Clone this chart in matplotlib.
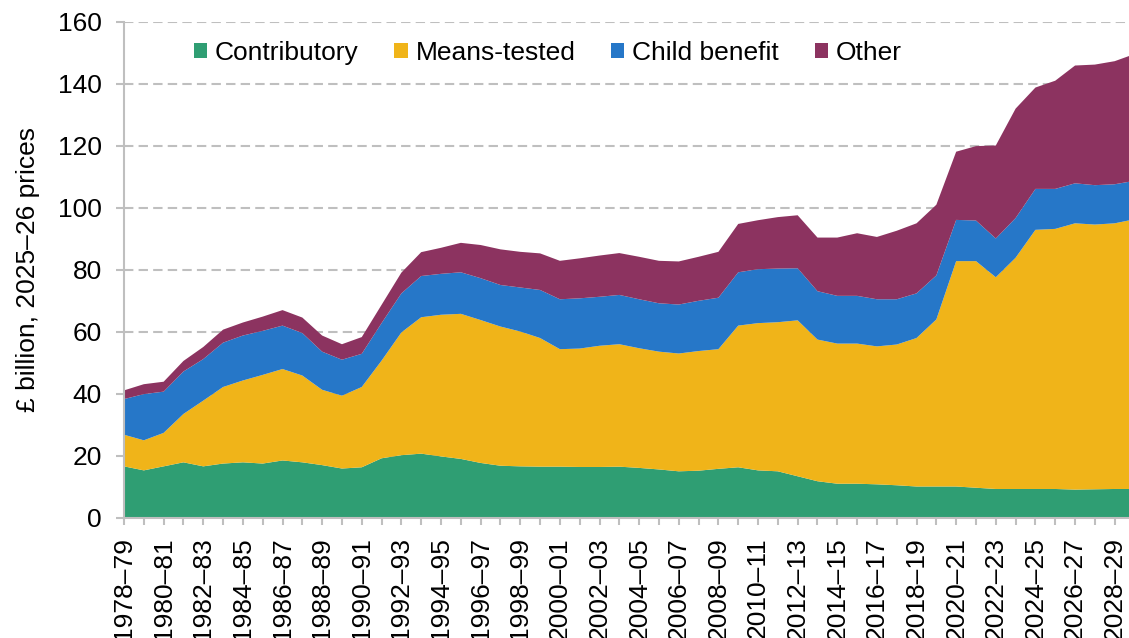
import matplotlib
matplotlib.use('Agg')
import matplotlib.pyplot as plt


# financial years 1978-79 .. 2029-30
years = [f"{y}\u2013{(y + 1) % 100:02d}" for y in range(1978, 2030)]

contributory = [16.5, 15.2, 16.5, 17.8, 16.5, 17.4, 17.8, 17.4, 18.4, 17.8,
                16.9, 15.8, 16.2, 19.1, 20.1, 20.6, 19.7, 18.9, 17.6, 16.7,
                16.5, 16.4, 16.4, 16.3, 16.3, 16.4, 16.0, 15.5, 14.9, 15.1,
                15.7, 16.2, 15.2, 14.9, 13.3, 11.7, 10.9, 10.9, 10.7, 10.4,
                10.0, 10.0, 10.0, 9.6, 9.2, 9.2, 9.2, 9.2, 9.0, 9.1,
                9.2, 9.2]
means_tested = [10.2, 9.7, 10.8, 15.6, 21.2, 24.7, 26.4, 28.6, 29.5, 28.0,
                24.3, 23.5, 25.9, 31.5, 39.6, 44.0, 45.7, 46.8, 46.1, 44.9,
                43.5, 41.5, 37.9, 38.2, 39.1, 39.5, 38.6, 38.0, 38.0, 38.6,
                38.6, 45.7, 47.5, 48.1, 50.3, 45.7, 45.2, 45.2, 44.5, 45.4,
                47.9, 53.9, 72.7, 73.1, 68.3, 74.6, 83.6, 83.9, 85.9, 85.4,
                85.7, 87.0]
child_benefit = [11.5, 14.9, 13.3, 13.7, 13.4, 14.3, 14.5, 14.2, 14.0, 13.7,
                 12.3, 11.6, 10.7, 12.1, 12.6, 13.3, 13.2, 13.4, 13.5, 13.4,
                 14.2, 15.5, 16.1, 16.2, 15.8, 15.9, 15.8, 15.6, 15.8, 16.2,
                 16.6, 17.2, 17.4, 17.3, 16.8, 15.6, 15.4, 15.4, 15.2, 14.6,
                 14.4, 14.2, 13.3, 13.1, 12.5, 12.8, 13.2, 12.9, 12.9, 12.7,
                 12.6, 12.4]
other = [2.8, 3.2, 3.2, 3.4, 3.9, 4.2, 4.2, 4.6, 5.0, 5.0,
         5.2, 5.0, 5.4, 5.9, 6.7, 7.7, 8.4, 9.5, 10.7, 11.5,
         11.5, 11.8, 12.4, 12.9, 13.3, 13.5, 13.7, 13.7, 13.9, 14.2,
         14.8, 15.6, 15.8, 16.6, 17.1, 17.3, 18.8, 20.2, 20.1, 22.1,
         22.6, 22.8, 22.0, 24.0, 30.0, 35.3, 32.7, 34.9, 38.0, 38.9,
         39.7, 40.9]

series_names = ['Contributory', 'Means-tested', 'Child benefit', 'Other']
colours = ['#2f9e73', '#f0b419', '#2677c8', '#8c3360']
grey = '#bfbfbf'


def main():
    plt.rcParams['font.family'] = ['Liberation Sans', 'DejaVu Sans']
    plt.rcParams['font.size'] = 19

    fig = plt.figure(figsize=(11.29, 6.38), dpi=100)
    # right end of the axes sits a little past the picture edge
    ax = fig.add_axes([124 / 1129, 120.5 / 638, 1010.5 / 1129, 496 / 638])

    x = list(range(len(years)))
    ax.stackplot(x, contributory, means_tested, child_benefit, other,
                 colors=colours, labels=series_names, linewidth=0, zorder=2)

    ax.set_xlim(0, len(years) - 1)
    ax.set_ylim(0, 160)
    ax.set_yticks(range(0, 161, 20))
    ax.set_xticks(x)
    ax.set_xticklabels([lab if i % 2 == 0 else '' for i, lab in enumerate(years)],
                       rotation=90)

    ax.grid(axis='y', color=grey, linewidth=1.5, linestyle=(0, (4.5, 2.5)), zorder=1)
    ax.set_axisbelow(True)
    for side in ['top', 'right']:
        ax.spines[side].set_visible(False)
    for side in ['left', 'bottom']:
        ax.spines[side].set_color(grey)
        ax.spines[side].set_linewidth(1.5)
    ax.tick_params(axis='y', colors=grey, labelcolor='black', length=6,
                   width=1.5, pad=10, labelsize=19)
    ax.tick_params(axis='x', colors=grey, labelcolor='black', length=5,
                   width=1.5, pad=9, labelsize=19)

    ax.set_ylabel('£ billion, 2025\u201326 prices', fontsize=19, labelpad=13)

    ax.legend(loc='upper left', bbox_to_anchor=(194 / 1129, 1 - 41 / 638),
              bbox_transform=fig.transFigure, ncol=4, frameon=False,
              borderpad=0, borderaxespad=0, handlelength=0.5, handleheight=0.5,
              handletextpad=0.3, columnspacing=1.35, fontsize=19)

    fig.savefig('out.png', dpi=100)


if __name__ == '__main__':
    main()
